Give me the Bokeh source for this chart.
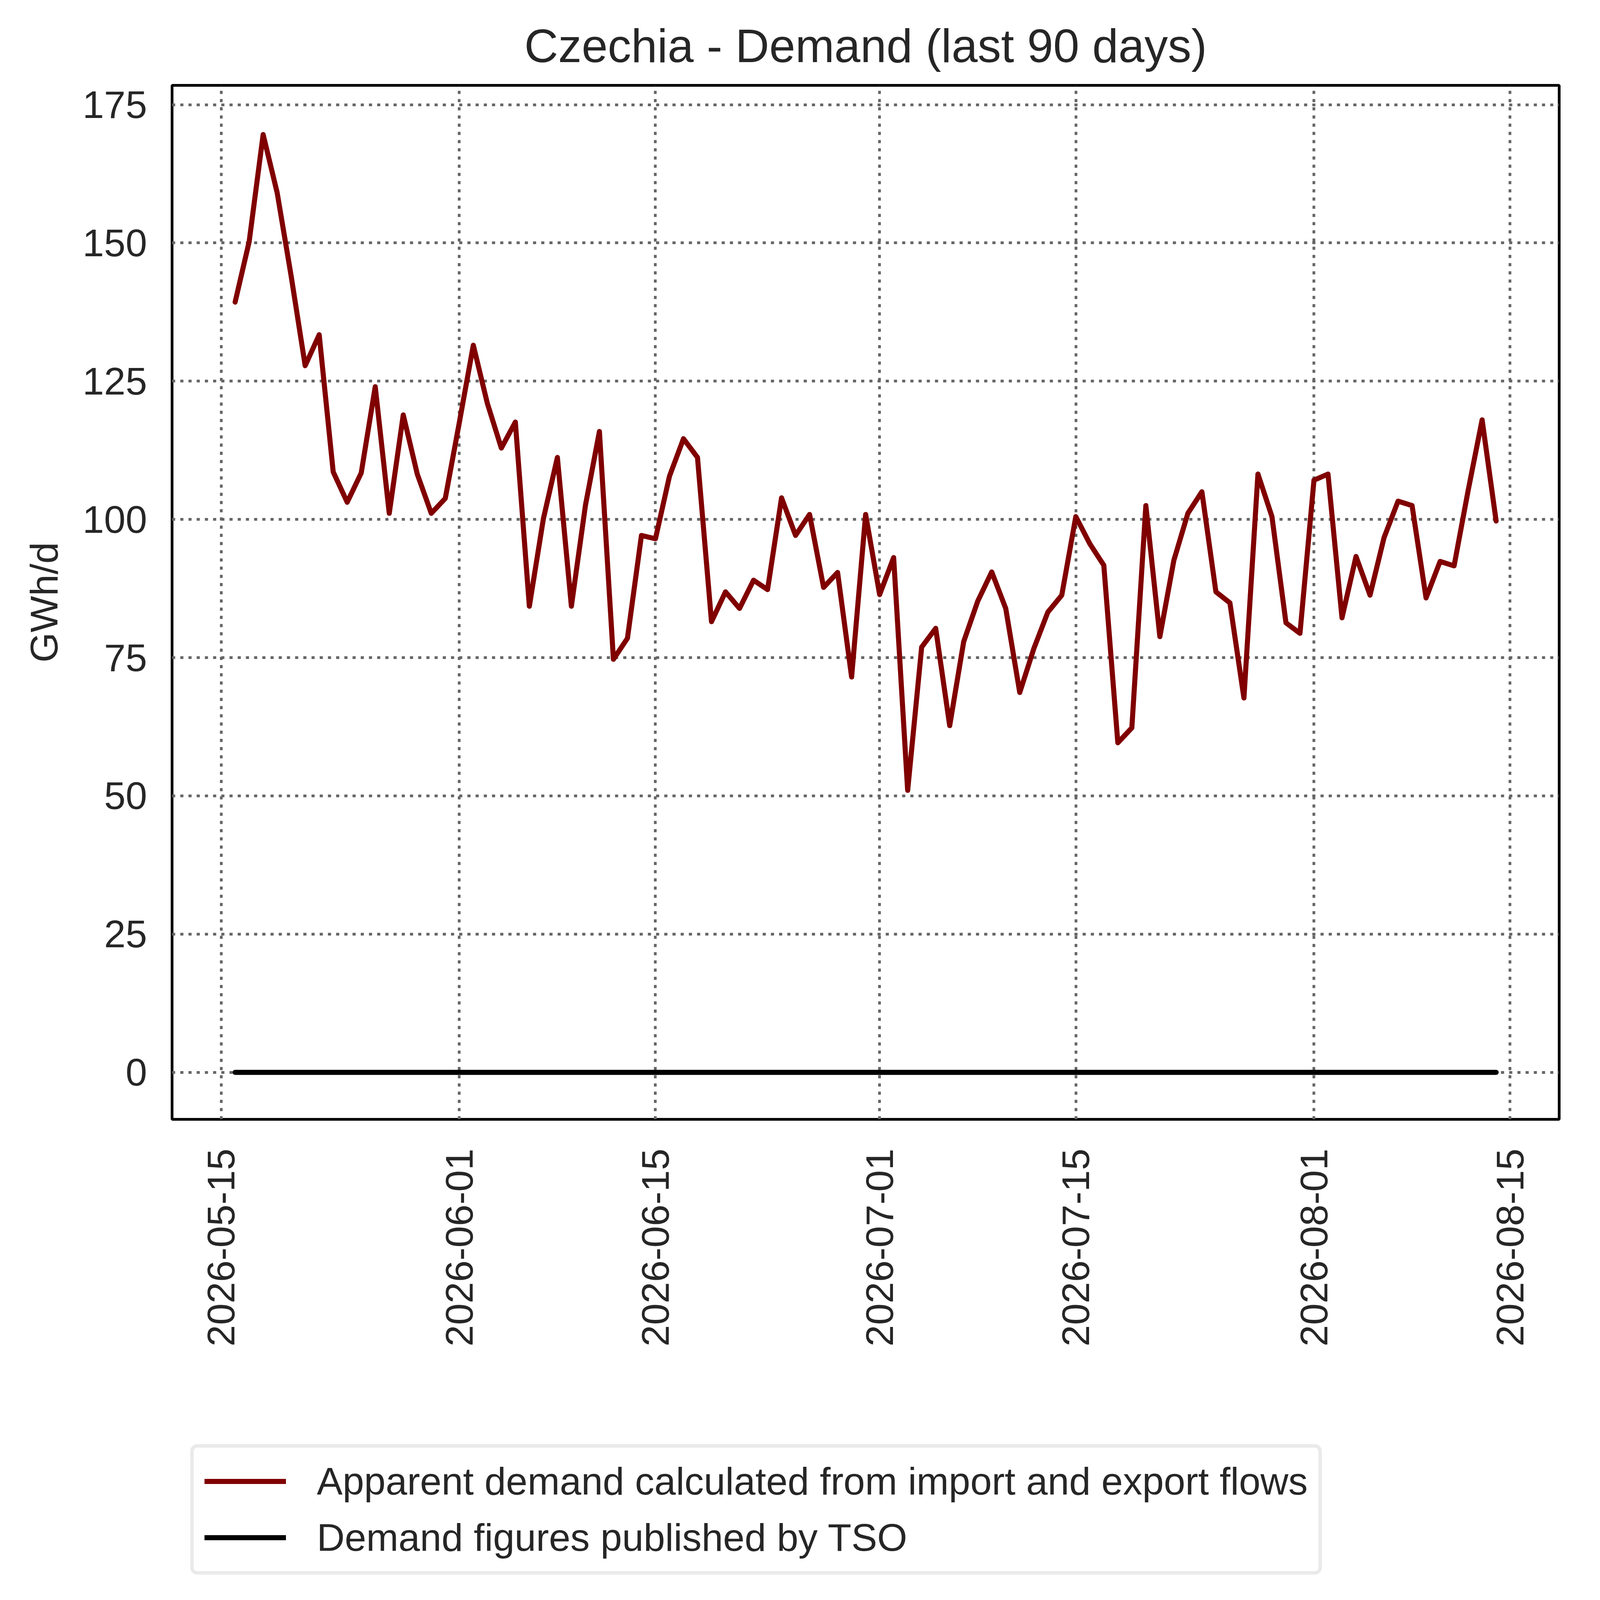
import math
from datetime import datetime
import pandas as pd
from bokeh.plotting import figure
from bokeh.layouts import column
from bokeh.models import Range1d, FixedTicker, DatetimeTickFormatter, Legend, LegendItem
from bokeh.embed import file_html
from bokeh.resources import INLINE

# ---------------- data ----------------
dates = pd.date_range("2026-05-16", "2026-08-14", freq="D")

apparent_demand = [
    139.3, 150.2, 169.6, 159.1, 144.0, 127.8, 133.4, 108.6, 103.1, 108.4,
    124.0, 101.1, 118.9, 108.2, 101.1, 103.8,
    117.5, 131.5, 121.0, 112.9, 117.6, 84.3, 100.1, 111.2, 84.3, 102.5,
    115.9, 74.7, 78.5, 97.1, 96.5, 107.8, 114.6, 111.2, 81.5, 86.9,
    83.9, 89.0, 87.3, 103.9, 97.1, 100.9, 87.7, 90.4, 71.5, 100.9,
    86.4, 93.1, 51.0, 76.9, 80.3, 62.7, 77.9, 85.2, 90.5, 83.9,
    68.7, 76.6, 83.2, 86.3, 100.5, 95.6, 91.7, 59.6, 62.3, 102.5,
    78.8, 92.6, 101.1, 105.0, 86.9, 84.9, 67.7, 108.2, 100.5, 81.3,
    79.4,
    107.1, 108.2, 82.2, 93.3, 86.3, 96.7, 103.3, 102.5, 85.8, 92.4,
    91.6, 105.2, 118.0, 99.7,
]

tso_demand = [
    0, 0, 0, 0, 0, 0, 0, 0, 0, 0, 0, 0, 0, 0, 0, 0,
    0, 0, 0, 0, 0, 0, 0, 0, 0, 0, 0, 0, 0, 0, 0, 0, 0, 0, 0, 0,
    0, 0, 0, 0, 0, 0, 0, 0, 0, 0,
    0, 0, 0, 0, 0, 0, 0, 0, 0, 0, 0, 0, 0, 0, 0, 0, 0, 0, 0, 0,
    0, 0, 0, 0, 0, 0, 0, 0, 0, 0, 0,
    0, 0, 0, 0, 0, 0, 0, 0, 0, 0, 0, 0, 0, 0,
]

x_tick_dates = ["2026-05-15", "2026-06-01", "2026-06-15", "2026-07-01",
                "2026-07-15", "2026-08-01", "2026-08-15"]
y_ticks = [0, 25, 50, 75, 100, 125, 150, 175]

title_text = "Czechia - Demand (last 90 days)"
y_label = "GWh/d"
series_labels = ["Apparent demand calculated from import and export flows",
                 "Demand figures published by TSO"]

# ---------------- style ----------------
FONT = "Liberation Sans"
TXT = "#262626"
RED = "#800000"
LW = 13

W = 4051
H1, H2 = 3560, 510
FL, FR, FT, FB = 440, 3991, 218, 2865

p = figure(
    width=W, height=H1,
    x_axis_type="datetime",
    output_backend="svg",
    toolbar_location=None,
    x_range=Range1d(start=datetime(2026, 5, 11, 12), end=datetime(2026, 8, 18, 12)),
    y_range=Range1d(start=-8.5, end=178.5),
    min_border_left=FL, min_border_right=W - FR,
    min_border_top=FT, min_border_bottom=H1 - FB,
    background_fill_color="white", border_fill_color="white",
)

p.title.text = title_text
p.title.text_font = FONT
p.title.text_font_size = "120px"
p.title.text_font_style = "normal"
p.title.text_color = TXT
p.title.align = "center"
p.title.standoff = 70

p.outline_line_color = "black"
p.outline_line_width = 7
p.outline_line_alpha = 1.0

# axes
tick_ms = [pd.Timestamp(d).value // 10**6 for d in x_tick_dates]
p.xaxis.ticker = FixedTicker(ticks=tick_ms)
fmt = "%Y-%m-%d"
p.xaxis.formatter = DatetimeTickFormatter(
    microseconds=fmt, milliseconds=fmt, seconds=fmt, minsec=fmt, minutes=fmt,
    hourmin=fmt, hours=fmt, days=fmt, months=fmt, years=fmt)
p.xaxis.major_label_orientation = math.pi / 2
p.yaxis.ticker = FixedTicker(ticks=y_ticks)

for ax in (p.xaxis, p.yaxis):
    ax.axis_line_color = None
    ax.major_tick_line_color = None
    ax.minor_tick_line_color = None
    ax.major_tick_out = 0
    ax.major_tick_in = 0
    ax.minor_tick_out = 0
    ax.major_label_text_font = FONT
    ax.major_label_text_font_size = "99px"
    ax.major_label_text_color = TXT

p.xaxis.major_label_standoff = 75
p.yaxis.major_label_standoff = 64

p.yaxis.axis_label = y_label
p.yaxis.axis_label_text_font = FONT
p.yaxis.axis_label_text_font_size = "99px"
p.yaxis.axis_label_text_font_style = "normal"
p.yaxis.axis_label_text_color = TXT
p.yaxis.axis_label_standoff = 40

# grid
for g in (p.xgrid, p.ygrid):
    g.grid_line_color = "#666666"
    g.grid_line_width = 7
    g.grid_line_dash = "8 13"

# lines
p.line(x=dates, y=apparent_demand, line_color=RED, line_width=LW,
       line_cap="round", line_join="round")
p.line(x=dates, y=tso_demand, line_color="#000000", line_width=LW,
       line_cap="round", line_join="round")

# ---------------- legend strip below the chart ----------------
p2 = figure(
    width=W, height=H2,
    output_backend="svg",
    toolbar_location=None,
    x_axis_location=None, y_axis_location=None,
    x_range=Range1d(0, 1), y_range=Range1d(0, 1),
    min_border=0,
    background_fill_color="white", border_fill_color="white",
)
p2.outline_line_color = None
p2.grid.visible = False
# same series, outside this strip's visible range: they only feed the legend glyphs
k1 = p2.line(x=dates, y=apparent_demand, line_color=RED, line_width=LW)
k2 = p2.line(x=dates, y=tso_demand, line_color="#000000", line_width=LW)

legend = Legend(items=[LegendItem(label=series_labels[0], renderers=[k1]),
                       LegendItem(label=series_labels[1], renderers=[k2])],
                location=(47, 39))
legend.margin = 0
legend.padding = 27
legend.spacing = 26
legend.glyph_width = 209
legend.glyph_height = 42
legend.label_height = 118
legend.label_standoff = 79
legend.label_text_font = FONT
legend.label_text_font_size = "99px"
legend.label_text_color = TXT
legend.border_line_color = "#d6d6d6"
legend.border_line_width = 9
legend.background_fill_color = "white"
legend.background_fill_alpha = 1.0
try:
    legend.border_radius = 18
except Exception:
    pass
p2.add_layout(legend)

layout = column(p, p2)
open("out.html", "w").write(file_html(layout, INLINE))
